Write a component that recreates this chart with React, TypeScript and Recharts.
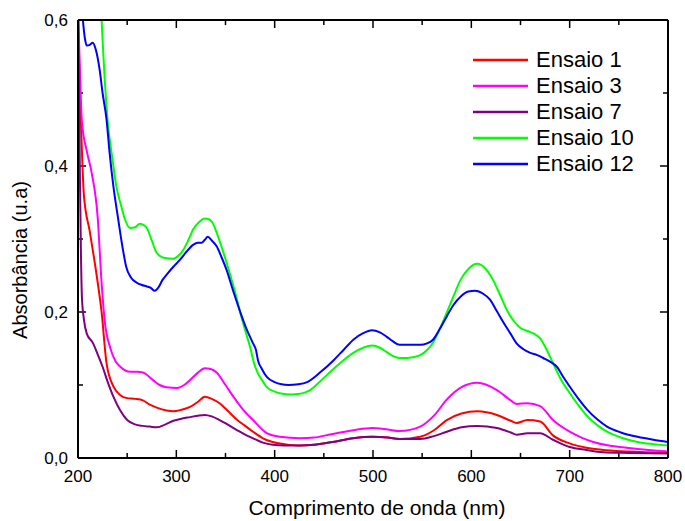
import { LineChart, Line, XAxis, YAxis, Legend, Label, ReferenceLine } from 'recharts';

// wavelength (nm), absorbance (u.a) pairs
const ensaio1: [number, number][] = [
  [200, 0.61], [202, 0.5], [204, 0.42], [206, 0.36], [212, 0.31], [219, 0.25], [224, 0.2], [229, 0.13],
  [236, 0.098], [243, 0.086], [250, 0.082], [258, 0.081], [266, 0.079], [273, 0.073], [280, 0.069],
  [290, 0.065], [297, 0.064], [305, 0.066], [314, 0.07], [322, 0.077], [329, 0.084], [336, 0.081],
  [344, 0.075], [352, 0.065], [362, 0.052], [370, 0.044], [378, 0.036], [388, 0.027], [398, 0.022],
  [410, 0.019], [426, 0.017], [440, 0.018], [459, 0.022], [480, 0.027], [499, 0.029], [515, 0.028],
  [527, 0.026], [548, 0.029], [562, 0.038], [575, 0.052], [590, 0.061], [606, 0.064], [626, 0.059],
  [640, 0.051], [646, 0.048], [657, 0.052], [670, 0.05], [683, 0.031], [700, 0.02], [717, 0.014],
  [734, 0.011], [760, 0.009], [800, 0.007],
];

const ensaio3: [number, number][] = [
  [200, 0.62], [201.5, 0.55], [204, 0.46], [209, 0.42], [214, 0.39], [220, 0.33], [224, 0.24], [227, 0.19],
  [233, 0.15], [238, 0.133], [243, 0.125], [253, 0.118], [260, 0.118], [266, 0.117], [276, 0.107],
  [283, 0.1], [290, 0.097], [301, 0.096], [308, 0.1], [314, 0.107], [322, 0.117], [329, 0.123],
  [335, 0.122], [341, 0.117], [350, 0.1], [358, 0.084], [368, 0.066], [378, 0.052], [392, 0.034],
  [405, 0.029], [426, 0.027], [440, 0.028], [459, 0.033], [480, 0.038], [499, 0.041], [515, 0.039],
  [527, 0.037], [548, 0.043], [562, 0.058], [575, 0.08], [590, 0.097], [606, 0.103], [626, 0.093],
  [640, 0.079], [646, 0.074], [657, 0.075], [670, 0.071], [683, 0.052], [700, 0.036], [712, 0.028],
  [724, 0.022], [740, 0.017], [758, 0.014], [780, 0.011], [800, 0.009],
];

const ensaio7: [number, number][] = [
  [200, 0.62], [201, 0.5], [202, 0.38], [203, 0.28], [204, 0.22], [206, 0.19], [209, 0.17], [215, 0.158],
  [220, 0.142], [225, 0.125], [230, 0.105], [236, 0.084], [243, 0.065], [250, 0.052], [258, 0.046],
  [266, 0.044], [273, 0.043], [280, 0.042], [289, 0.046], [297, 0.051], [306, 0.054], [314, 0.056],
  [322, 0.058], [329, 0.059], [336, 0.057], [344, 0.052], [352, 0.046], [362, 0.038], [370, 0.032],
  [378, 0.027], [388, 0.021], [398, 0.018], [410, 0.017], [426, 0.017], [440, 0.018], [459, 0.022],
  [480, 0.027], [499, 0.029], [515, 0.028], [527, 0.026], [548, 0.026], [562, 0.03], [575, 0.036],
  [590, 0.042], [606, 0.044], [626, 0.041], [640, 0.035], [646, 0.032], [657, 0.034], [670, 0.034],
  [683, 0.025], [700, 0.015], [717, 0.011], [734, 0.008], [760, 0.007], [800, 0.006],
];

const ensaio10: [number, number][] = [
  [222, 0.66], [224, 0.6], [230, 0.464], [235, 0.41], [239, 0.372], [244, 0.345], [248, 0.326],
  [253, 0.315], [258, 0.316], [263, 0.321], [267, 0.319], [270, 0.315], [275, 0.298], [280, 0.281],
  [288, 0.274], [297, 0.273], [302, 0.277], [307, 0.285], [312, 0.298], [317, 0.313], [323, 0.323],
  [329, 0.328], [333, 0.327], [337, 0.322], [342, 0.305], [348, 0.281], [355, 0.25], [361, 0.221],
  [365, 0.199], [370, 0.175], [375, 0.152], [379, 0.13], [383, 0.116], [388, 0.105], [392, 0.097],
  [400, 0.091], [408, 0.088], [416, 0.087], [426, 0.088], [436, 0.093], [447, 0.106], [459, 0.121],
  [470, 0.134], [480, 0.144], [490, 0.151], [499, 0.154], [507, 0.151], [514, 0.145], [520, 0.14],
  [527, 0.137], [535, 0.137], [548, 0.141], [555, 0.148], [561, 0.158], [568, 0.177], [575, 0.199],
  [582, 0.222], [589, 0.244], [597, 0.259], [606, 0.266], [614, 0.26], [622, 0.244], [629, 0.224],
  [636, 0.203], [643, 0.188], [650, 0.178], [657, 0.174], [664, 0.17], [670, 0.164], [676, 0.15],
  [683, 0.13], [691, 0.108], [700, 0.089], [709, 0.072], [718, 0.057], [728, 0.045], [738, 0.036],
  [752, 0.028], [769, 0.022], [785, 0.019], [800, 0.017],
];

const ensaio12: [number, number][] = [
  [200, 0.72], [203, 0.64], [205, 0.6], [207, 0.575], [209, 0.565], [212, 0.566], [215, 0.569],
  [218, 0.56], [222, 0.532], [225, 0.5], [229, 0.464], [232, 0.42], [236, 0.372], [240, 0.335],
  [243, 0.308], [246, 0.283], [249, 0.262], [254, 0.247], [260, 0.24], [265, 0.237], [270, 0.235],
  [274, 0.233], [278, 0.229], [282, 0.234], [286, 0.244], [290, 0.251], [297, 0.262], [304, 0.272],
  [310, 0.282], [317, 0.292], [322, 0.295], [326, 0.295], [329, 0.299], [332, 0.303], [336, 0.298],
  [341, 0.29], [346, 0.275], [351, 0.258], [358, 0.228], [365, 0.2], [371, 0.178], [378, 0.157],
  [381, 0.148], [383, 0.134], [387, 0.122], [392, 0.111], [400, 0.104], [407, 0.101], [414, 0.1],
  [424, 0.101], [433, 0.104], [446, 0.117], [460, 0.134], [470, 0.148], [480, 0.162], [490, 0.171],
  [499, 0.175], [507, 0.172], [514, 0.166], [520, 0.16], [527, 0.155], [537, 0.155], [548, 0.155],
  [555, 0.157], [561, 0.162], [568, 0.177], [575, 0.194], [582, 0.21], [589, 0.221], [597, 0.228],
  [604, 0.229], [612, 0.225], [619, 0.217], [626, 0.201], [633, 0.185], [640, 0.17], [646, 0.157],
  [653, 0.149], [660, 0.144], [667, 0.141], [673, 0.137], [680, 0.132], [687, 0.125], [693, 0.112],
  [700, 0.098], [709, 0.081], [718, 0.066], [728, 0.053], [738, 0.043], [752, 0.035], [769, 0.029],
  [785, 0.025], [800, 0.022],
];

const seriesNames = ['Ensaio 1', 'Ensaio 3', 'Ensaio 7', 'Ensaio 10', 'Ensaio 12'];
const seriesColors = ['#ff0000', '#ff00ff', '#800080', '#00ff00', '#0000ff'];
const seriesData = [ensaio1, ensaio3, ensaio7, ensaio10, ensaio12];

const nmTicks = [200, 250, 300, 350, 400, 450, 500, 550, 600, 650, 700, 750, 800];
const absTicks = [0, 0.1, 0.2, 0.3, 0.4, 0.5, 0.6];

const FONT = '"Liberation Sans", Arial, sans-serif';
const NM_MIN = 200;
const NM_MAX = 800;
const ABS_MAX = 0.6;

const toRows = (pts: [number, number][]) => pts.map(([nm, abs]) => ({ nm, abs }));
const isMajorNm = (v: number) => v % 100 === 0;
const isMajorAbs = (v: number) => Math.round(v * 10) % 2 === 0;

// inward tick marks (major ~8px, minor ~5px) as short segments in data units
const xTickLen = (v: number) => (isMajorNm(v) ? 0.011 : 0.007);
const yTickLen = (v: number) => (isMajorAbs(v) ? 8.2 : 5.1);
const tickSegments = [
  ...nmTicks.map((v) => [{ x: v, y: 0 }, { x: v, y: xTickLen(v) }]),
  ...nmTicks.map((v) => [{ x: v, y: ABS_MAX }, { x: v, y: ABS_MAX - xTickLen(v) }]),
  ...absTicks.map((v) => [{ x: NM_MIN, y: v }, { x: NM_MIN + yTickLen(v), y: v }]),
  ...absTicks.map((v) => [{ x: NM_MAX, y: v }, { x: NM_MAX - yTickLen(v), y: v }]),
];

function BottomLabel({ x, y, payload }: any) {
  if (!isMajorNm(payload.value)) return <g />;
  return (
    <text x={x} y={y + 24} textAnchor="middle" fontSize={17} fontFamily={FONT} fill="#000">
      {payload.value}
    </text>
  );
}

function LeftLabel({ x, y, payload }: any) {
  if (!isMajorAbs(payload.value)) return <g />;
  return (
    <text x={x - 10} y={y + 6} textAnchor="end" fontSize={17} fontFamily={FONT} fill="#000">
      {payload.value.toFixed(1).replace('.', ',')}
    </text>
  );
}

function LegendBox() {
  return (
    <div style={{ fontFamily: FONT, fontSize: 22, color: '#000' }}>
      {seriesNames.map((name, i) => (
        <div key={name} style={{ display: 'flex', alignItems: 'center', height: 26 }}>
          <svg width={63} height={26}>
            <line x1={0} x2={55} y1={13} y2={13} stroke={seriesColors[i]} strokeWidth={2.5} />
          </svg>
          <span style={{ lineHeight: '26px' }}>{name}</span>
        </div>
      ))}
    </div>
  );
}

const axisLine = { stroke: '#000', strokeWidth: 2 };

export default function App() {
  return (
    <div style={{ width: 685, height: 521, background: '#fff' }}>
      <style>{'body { margin: 0; overflow: hidden; }'}</style>
      <LineChart width={685} height={521} margin={{ top: 19, right: 16, bottom: 0, left: 0 }}>
        <XAxis
          type="number"
          dataKey="nm"
          domain={[NM_MIN, NM_MAX]}
          ticks={nmTicks}
          interval={0}
          allowDataOverflow
          height={63}
          tickSize={0}
          tickMargin={0}
          tick={BottomLabel}
          tickLine={false}
          axisLine={axisLine}
        >
          <Label
            content={({ viewBox }: any) => (
              <text
                x={viewBox.x + viewBox.width / 2 + 4}
                y={viewBox.y + 57}
                textAnchor="middle"
                fontSize={21}
                fontFamily={FONT}
                fill="#000"
              >
                Comprimento de onda (nm)
              </text>
            )}
          />
        </XAxis>
        <XAxis
          xAxisId="top"
          orientation="top"
          type="number"
          domain={[NM_MIN, NM_MAX]}
          ticks={nmTicks}
          allowDataOverflow
          height={1}
          tick={false}
          tickLine={false}
          axisLine={axisLine}
        />
        <YAxis
          type="number"
          domain={[0, ABS_MAX]}
          ticks={absTicks}
          interval={0}
          allowDataOverflow
          width={78}
          tickSize={0}
          tickMargin={0}
          tick={LeftLabel}
          tickLine={false}
          axisLine={axisLine}
        >
          <Label
            content={({ viewBox }: any) => {
              const cx = 27;
              const cy = viewBox.y + viewBox.height / 2 + 21;
              return (
                <text
                  x={cx}
                  y={cy}
                  transform={`rotate(-90, ${cx}, ${cy})`}
                  textAnchor="middle"
                  fontSize={20}
                  fontFamily={FONT}
                  fill="#000"
                >
                  Absorbância (u.a)
                </text>
              );
            }}
          />
        </YAxis>
        <YAxis
          yAxisId="right"
          orientation="right"
          type="number"
          domain={[0, ABS_MAX]}
          ticks={absTicks}
          allowDataOverflow
          width={1}
          tick={false}
          tickLine={false}
          axisLine={axisLine}
        />
        {tickSegments.map((seg, i) => (
          <ReferenceLine key={`tk-${i}`} segment={seg} stroke="#000" strokeWidth={1.5} ifOverflow="visible" />
        ))}
        <Legend
          layout="vertical"
          align="center"
          verticalAlign="middle"
          content={LegendBox}
          wrapperStyle={{ left: 473, top: 47, width: 'auto' }}
        />
        {seriesData.map((pts, i) => (
          <Line
            key={seriesNames[i]}
            name={seriesNames[i]}
            data={toRows(pts)}
            dataKey="abs"
            type="monotone"
            stroke={seriesColors[i]}
            strokeWidth={2}
            dot={false}
            activeDot={false}
            isAnimationActive={false}
          />
        ))}
      </LineChart>
    </div>
  );
}
